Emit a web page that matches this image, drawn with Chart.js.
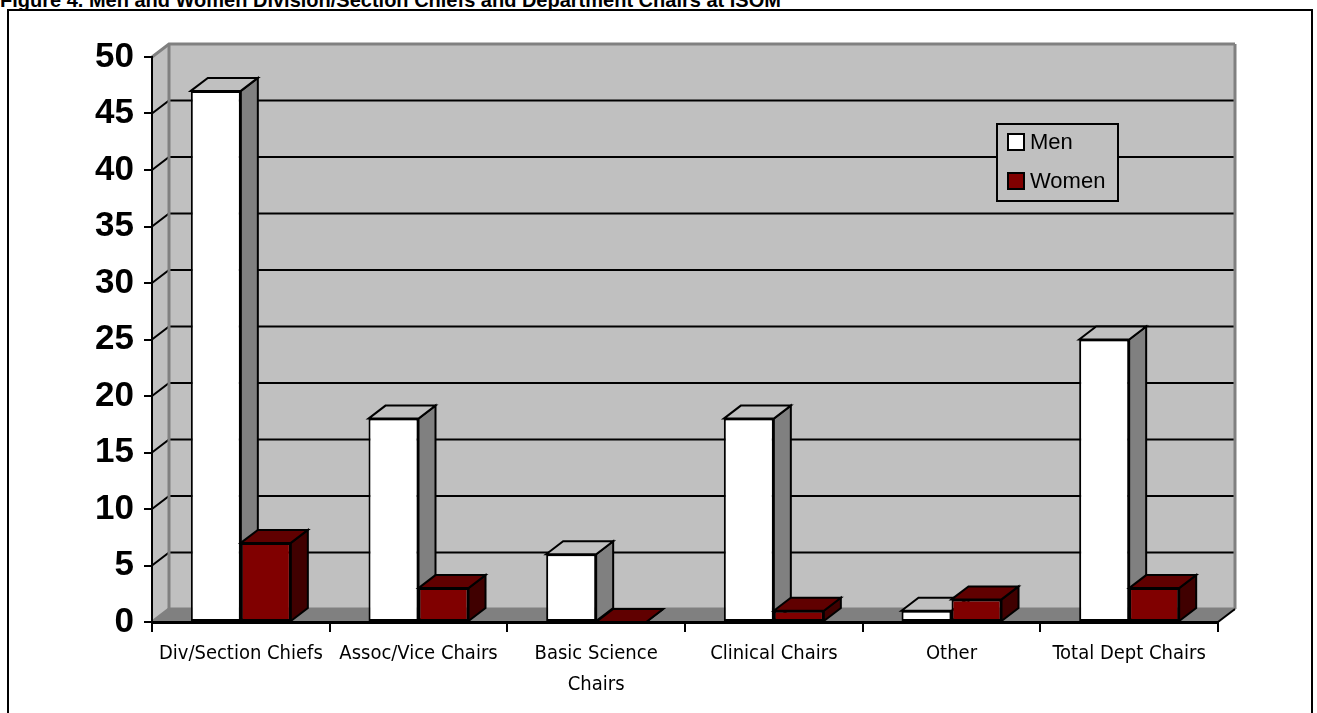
<!DOCTYPE html>
<html>
<head>
<meta charset="utf-8">
<title>Men and Women Division/Section Chiefs and Department Chairs</title>
<script src="https://cdn.jsdelivr.net/npm/chart.js@4/dist/chart.umd.min.js"></script>
<style>
  html, body { margin: 0; padding: 0; background: #fff; overflow: hidden; }
  body { width: 1317px; height: 713px; position: relative; }
  #caption {
    position: absolute; left: 0; top: -10px; margin: 0;
    font: bold 20px "Liberation Sans", Arial, sans-serif; line-height: 20px;
    white-space: nowrap; color: #000;
  }
  #frame {
    position: absolute; left: 7px; top: 9px; width: 1306px; height: 740px;
    border: 2px solid #000; box-sizing: border-box;
  }
  #chart { position: absolute; left: 0; top: 0; }
</style>
</head>
<body>
<p id="caption">Figure 4. Men and Women Division/Section Chiefs and Department Chairs at ISOM</p>
<div id="frame"></div>
<canvas id="chart" width="1317" height="713"></canvas>
<script>
// Categories and counts
const categories = [
  'Div/Section Chiefs',
  'Assoc/Vice Chairs',
  ['Basic Science', 'Chairs'],
  'Clinical Chairs',
  'Other',
  'Total Dept Chairs'
];
const seriesNames = ['Men', 'Women'];
const menValues = [47, 18, 6, 18, 1, 25];
const womenValues = [7, 3, 0, 1, 2, 3];
const yMin = 0, yMax = 50, yStep = 5;

// Depth of the 3-D effect (pixels right / up)
const DX = 17, DY = -13;

function poly(ctx, pts, fill, stroke, width) {
  ctx.beginPath();
  ctx.moveTo(pts[0][0], pts[0][1]);
  for (let i = 1; i < pts.length; i++) ctx.lineTo(pts[i][0], pts[i][1]);
  ctx.closePath();
  if (fill) { ctx.fillStyle = fill; ctx.fill(); }
  if (stroke) { ctx.strokeStyle = stroke; ctx.lineWidth = width || 2; ctx.stroke(); }
}

function line(ctx, pts, color, width) {
  ctx.beginPath();
  ctx.moveTo(pts[0][0], pts[0][1]);
  for (let i = 1; i < pts.length; i++) ctx.lineTo(pts[i][0], pts[i][1]);
  ctx.strokeStyle = color; ctx.lineWidth = width; ctx.stroke();
}

// Back wall, side wall, floor and gridlines, drawn before the axes
const walls3d = {
  id: 'walls3d',
  beforeDraw(chart) {
    const { ctx, chartArea: a, scales: { y } } = chart;
    ctx.save();
    ctx.lineJoin = 'miter';
    // back wall
    poly(ctx, [[a.left + DX, a.top + DY], [a.right + DX, a.top + DY],
               [a.right + DX, a.bottom + DY], [a.left + DX, a.bottom + DY]], '#c0c0c0');
    // side wall
    poly(ctx, [[a.left, a.top], [a.left + DX, a.top + DY],
               [a.left + DX, a.bottom + DY], [a.left, a.bottom]], '#c0c0c0');
    // floor
    poly(ctx, [[a.left, a.bottom], [a.left + DX, a.bottom + DY],
               [a.right + DX, a.bottom + DY], [a.right, a.bottom]], '#808080');
    // gridlines on side and back walls
    y.ticks.forEach(t => {
      const py = y.getPixelForValue(t.value);
      const edge = (t.value === yMin || t.value === yMax);
      line(ctx, [[a.left, py], [a.left + DX, py + DY], [a.right + DX, py + DY]],
           edge ? '#808080' : '#000', edge ? 3 : 2);
    });
    // wall edges
    line(ctx, [[a.left + DX, a.top + DY], [a.left + DX, a.bottom + DY]], '#808080', 3);
    line(ctx, [[a.right + DX, a.top + DY], [a.right + DX, a.bottom + DY]], '#808080', 3);
    line(ctx, [[a.right, a.bottom], [a.right + DX, a.bottom + DY]], '#000', 2);
    ctx.restore();
  },
  // bars drawn category by category, left to right, each with its top and side faces
  beforeDatasetsDraw(chart) {
    const { ctx } = chart;
    const metas = chart.getSortedVisibleDatasetMetas();
    const n = chart.data.labels.length;
    ctx.save();
    ctx.lineJoin = 'miter';
    for (let i = 0; i < n; i++) {
      metas.forEach(meta => {
        const el = meta.data[i];
        const ds = chart.data.datasets[meta.index];
        const l = el.x - el.width / 2, r = el.x + el.width / 2;
        const top = el.y, bot = el.base;
        el.draw(ctx, chart.chartArea);
        poly(ctx, [[r, top], [r + DX, top + DY], [r + DX, bot + DY], [r, bot]],
             ds.sideColor, '#000', 2);
        poly(ctx, [[l, top], [l + DX, top + DY], [r + DX, top + DY], [r, top]],
             ds.topColor, '#000', 2);
      });
    }
    ctx.restore();
    return false;
  },
  // legend box
  afterDraw(chart) {
    const { ctx } = chart;
    const box = { x: 997, y: 124, w: 121, h: 77 };
    ctx.save();
    ctx.fillStyle = '#c0c0c0';
    ctx.fillRect(box.x, box.y, box.w, box.h);
    ctx.strokeStyle = '#000'; ctx.lineWidth = 2;
    ctx.strokeRect(box.x, box.y, box.w, box.h);
    ctx.font = '22px "Liberation Sans", Arial, sans-serif';
    ctx.textBaseline = 'middle';
    chart.data.datasets.forEach((ds, k) => {
      const cy = box.y + 18 + k * 39;
      ctx.fillStyle = ds.backgroundColor;
      ctx.fillRect(1008, cy - 8, 16, 16);
      ctx.strokeRect(1008, cy - 8, 16, 16);
      ctx.fillStyle = '#000';
      ctx.fillText(ds.label, 1030, cy + 1);
    });
    ctx.restore();
  }
};

new Chart(document.getElementById('chart'), {
  type: 'bar',
  data: {
    labels: categories,
    datasets: [
      { label: seriesNames[0], data: menValues, backgroundColor: '#ffffff',
        sideColor: '#808080', topColor: '#c0c0c0', borderColor: '#000', borderWidth: 2 },
      { label: seriesNames[1], data: womenValues, backgroundColor: '#800000',
        sideColor: '#400000', topColor: '#600000', borderColor: '#000', borderWidth: 2 }
    ]
  },
  options: {
    responsive: false,
    animation: false,
    devicePixelRatio: 1,
    layout: { padding: { left: 0, top: 57, right: 99, bottom: 0 } },
    datasets: { bar: { categoryPercentage: 0.563, barPercentage: 1.0, borderSkipped: false } },
    plugins: { legend: { display: false }, tooltip: { enabled: false }, title: { display: false } },
    scales: {
      x: {
        offset: true,
        grid: { display: true, drawOnChartArea: false, drawTicks: true, tickLength: 10,
                color: '#000', lineWidth: 2, offset: true },
        border: { display: true, color: '#000', width: 3 },
        ticks: { color: '#000', padding: 6, maxRotation: 0, autoSkip: false,
                 font: { family: '"Liberation Sans Narrow", "DejaVu Sans Condensed", Arial, sans-serif', size: 20, lineHeight: 1.55 } },
        afterFit(s) { s.height = 91; }
      },
      y: {
        min: yMin, max: yMax,
        grid: { display: true, drawOnChartArea: false, drawTicks: true, tickLength: 8,
                color: '#000', lineWidth: 2 },
        border: { display: true, color: '#000', width: 2 },
        ticks: { stepSize: yStep, color: '#000', padding: 10,
                 font: { family: '"Liberation Sans", Arial, sans-serif', size: 35, weight: 'bold' } },
        afterFit(s) { s.width = 152; }
      }
    }
  },
  plugins: [walls3d]
});
</script>
</body>
</html>
